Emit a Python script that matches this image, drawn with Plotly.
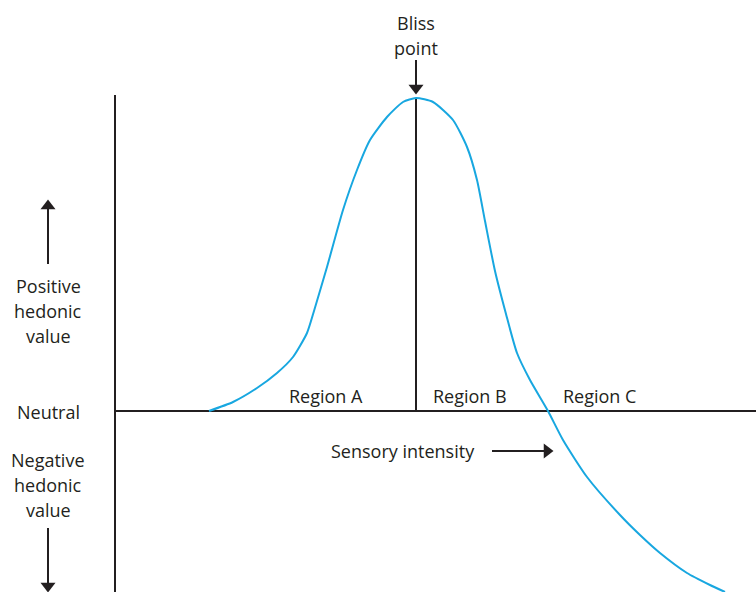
import plotly.graph_objects as go

# Hedonic response curve (x: sensory intensity, y: hedonic value, arbitrary units)
intensity = [94, 118, 142, 162, 178, 192, 199, 212, 228, 242, 255, 272, 288, 301,
             318, 338, 352, 362, 370, 380, 391, 402, 415, 433, 448, 472,
             505, 525, 545, 572, 595, 610]
hedonic = [0, 9, 23, 38, 54, 78, 100, 144, 201, 241, 271, 294, 309, 313,
           309, 291, 264, 231, 190, 140, 97, 58, 31, 0, -29, -66,
           -104, -124, -142, -162, -174, -181]

bliss_x = 301
bliss_y = 313

region_labels = ["Region A", "Region B", "Region C"]
region_x = [211, 355, 484]

INK = "#231f20"
CURVE = "#18a7e0"
FONT = "Open Sans"
FS = 18

fig = go.Figure()

# axes
fig.add_trace(go.Scatter(x=[0, 0], y=[316, -181], mode="lines",
                         line=dict(color=INK, width=2), hoverinfo="skip"))
fig.add_trace(go.Scatter(x=[0, 641], y=[0, 0], mode="lines",
                         line=dict(color=INK, width=2), hoverinfo="skip"))
# bliss-point divider
fig.add_trace(go.Scatter(x=[bliss_x, bliss_x], y=[bliss_y, 0], mode="lines",
                         line=dict(color=INK, width=2), hoverinfo="skip"))

# curve
fig.add_trace(go.Scatter(x=intensity, y=hedonic, mode="lines",
                         line=dict(color=CURVE, width=2, shape="spline", smoothing=0.6),
                         hoverinfo="skip"))

# arrows: shafts
arrow_shafts = [
    ([bliss_x, bliss_x], [351, 324]),      # bliss pointer
    ([-67, -67], [203, 147]),              # positive
    ([-67, -67], [-117, -173]),            # negative
    ([377, 430], [-40, -40]),              # sensory intensity
]
for xs, ys in arrow_shafts:
    fig.add_trace(go.Scatter(x=xs, y=ys, mode="lines",
                             line=dict(color=INK, width=2), hoverinfo="skip"))

# arrow heads
fig.add_trace(go.Scatter(
    x=[bliss_x, -67, -67, 432],
    y=[323, 205, -175, -40],
    mode="markers",
    marker=dict(symbol=["triangle-down", "triangle-up", "triangle-down", "triangle-right"],
                size=13, color=INK, line=dict(width=0)),
    hoverinfo="skip"))

texts = [
    (bliss_x, 388, "Bliss"),
    (bliss_x, 363, "point"),
    (-67, 125, "Positive"),
    (-67, 100, "hedonic"),
    (-67, 75, "value"),
    (-67, -1, "Neutral"),
    (-67, -49, "Negative"),
    (-67, -74, "hedonic"),
    (-67, -99, "value"),
    (288, -40, "Sensory intensity"),
]
for lx, rx in zip(region_labels, region_x):
    texts.append((rx, 15, lx))

for x, y, t in texts:
    fig.add_annotation(x=x, y=y, text=t, showarrow=False,
                       font=dict(family=FONT, size=FS, color=INK),
                       xanchor="center", yanchor="middle")

fig.update_layout(
    width=756, height=592,
    margin=dict(l=0, r=0, t=0, b=0),
    paper_bgcolor="white", plot_bgcolor="white",
    showlegend=False,
    xaxis=dict(range=[-115, 641], visible=False, fixedrange=True),
    yaxis=dict(range=[-181, 411], visible=False, fixedrange=True),
)

fig.write_html("out.html")
